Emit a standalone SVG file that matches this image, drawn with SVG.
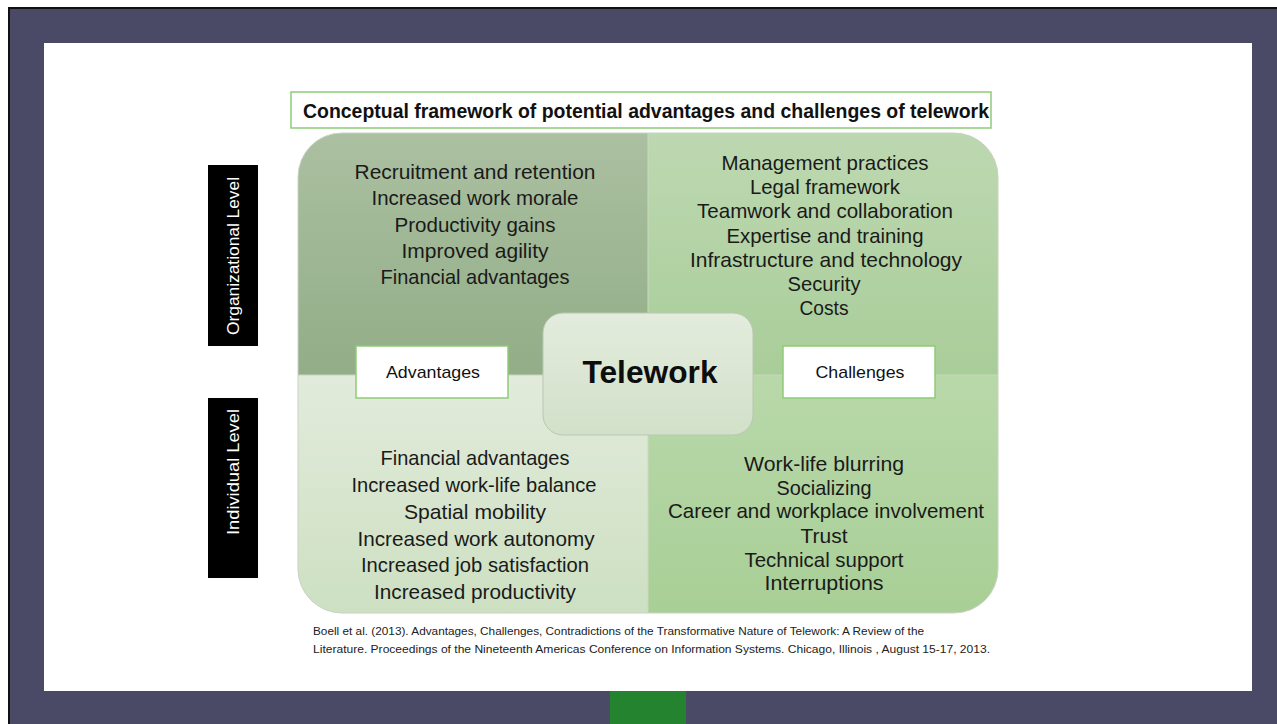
<svg xmlns="http://www.w3.org/2000/svg" width="1277" height="724" viewBox="0 0 1277 724">
  <style>
    .item { font-family: "Liberation Sans", Arial, sans-serif; font-size: 21px; fill: #1a1a1a; text-anchor: middle; }
    .tag { font-family: "Liberation Sans", Arial, sans-serif; font-size: 17px; fill: #111; text-anchor: middle; }
    .level { font-family: "Liberation Sans", Arial, sans-serif; font-size: 17px; fill: #ffffff; text-anchor: middle; }
    .cite { font-family: "Liberation Sans", Arial, sans-serif; font-size: 11.5px; fill: #222; }
    .labelbox { fill: #ffffff; stroke: #8fcb78; stroke-width: 1.5; }
  </style>
  <defs>
    <linearGradient id="gTL" x1="0" y1="0" x2="0" y2="1">
      <stop offset="0" stop-color="#abc0a1"/>
      <stop offset="1" stop-color="#92ad87"/>
    </linearGradient>
    <linearGradient id="gTR" x1="0" y1="0" x2="0" y2="1">
      <stop offset="0" stop-color="#bdd8b1"/>
      <stop offset="1" stop-color="#a9cd99"/>
    </linearGradient>
    <linearGradient id="gBL" x1="0" y1="0" x2="0" y2="1">
      <stop offset="0" stop-color="#e2ebdb"/>
      <stop offset="1" stop-color="#cde0c2"/>
    </linearGradient>
    <linearGradient id="gBR" x1="0" y1="0" x2="0" y2="1">
      <stop offset="0" stop-color="#b9d8aa"/>
      <stop offset="1" stop-color="#a8cf96"/>
    </linearGradient>
    <linearGradient id="gCenter" x1="0" y1="0" x2="0" y2="1">
      <stop offset="0" stop-color="#e3ecdd"/>
      <stop offset="1" stop-color="#d2e0c9"/>
    </linearGradient>
    <clipPath id="quadClip">
      <rect x="298" y="133" width="700" height="480" rx="44" ry="44"/>
    </clipPath>
  </defs>

  <!-- slide frame -->
  <rect x="0" y="0" width="1277" height="724" fill="#ffffff"/>
  <rect x="8" y="7" width="1269" height="717" fill="#111111"/>
  <rect x="10" y="9" width="1267" height="715" fill="#4b4a66"/>
  <rect x="44" y="43" width="1208" height="648" fill="#ffffff"/>
  <rect x="610" y="691" width="76" height="33" fill="#24832f"/>

  <!-- title -->
  <g id="title">
    <rect x="291" y="92" width="700" height="36" fill="#ffffff" stroke="#8fcb78" stroke-width="1.5"/>
    <text x="303" y="118" font-family="Liberation Sans, Arial, sans-serif" font-size="20" font-weight="bold" fill="#111" textLength="686" lengthAdjust="spacingAndGlyphs">Conceptual framework of potential advantages and challenges of telework</text>
  </g>

  <!-- level labels -->
  <g id="organizational-level">
    <rect x="208" y="165" width="50" height="181" fill="#000"/>
    <text class="level" transform="translate(239 256) rotate(-90)" textLength="158" lengthAdjust="spacingAndGlyphs">Organizational Level</text>
  </g>
  <g id="individual-level">
    <rect x="208" y="398" width="50" height="180" fill="#000"/>
    <text class="level" transform="translate(239 472) rotate(-90)" textLength="126" lengthAdjust="spacingAndGlyphs">Individual Level</text>
  </g>

  <!-- quadrant panel -->
  <g id="quadrants" clip-path="url(#quadClip)">
    <rect x="298" y="133" width="350" height="242" fill="url(#gTL)"/>
    <rect x="648" y="133" width="350" height="242" fill="url(#gTR)"/>
    <rect x="298" y="375" width="350" height="238" fill="url(#gBL)"/>
    <rect x="648" y="375" width="350" height="238" fill="url(#gBR)"/>
    <line x1="648" y1="133" x2="648" y2="613" stroke="#c9d9bf" stroke-width="1"/>
    <line x1="298" y1="375" x2="998" y2="375" stroke="#c6d6bc" stroke-width="1"/>
  </g>
  <rect x="298" y="133" width="700" height="480" rx="44" ry="44" fill="none" stroke="#c8d2c2" stroke-width="1"/>

  <g id="org-advantages">
    <text class="item" x="475" y="179" textLength="241" lengthAdjust="spacingAndGlyphs">Recruitment and retention</text>
    <text class="item" x="475" y="205" textLength="207" lengthAdjust="spacingAndGlyphs">Increased work morale</text>
    <text class="item" x="475" y="232" textLength="161" lengthAdjust="spacingAndGlyphs">Productivity gains</text>
    <text class="item" x="475" y="258" textLength="147" lengthAdjust="spacingAndGlyphs">Improved agility</text>
    <text class="item" x="475" y="284" textLength="189" lengthAdjust="spacingAndGlyphs">Financial advantages</text>
  </g>

  <g id="org-challenges">
    <text class="item" x="825" y="170" textLength="207" lengthAdjust="spacingAndGlyphs">Management practices</text>
    <text class="item" x="825" y="194" textLength="150" lengthAdjust="spacingAndGlyphs">Legal framework</text>
    <text class="item" x="825" y="218" textLength="256" lengthAdjust="spacingAndGlyphs">Teamwork and collaboration</text>
    <text class="item" x="825" y="243" textLength="197" lengthAdjust="spacingAndGlyphs">Expertise and training</text>
    <text class="item" x="826" y="267" textLength="272" lengthAdjust="spacingAndGlyphs">Infrastructure and technology</text>
    <text class="item" x="824" y="291" textLength="73" lengthAdjust="spacingAndGlyphs">Security</text>
    <text class="item" x="824" y="315" textLength="49" lengthAdjust="spacingAndGlyphs">Costs</text>
  </g>

  <g id="ind-advantages">
    <text class="item" x="475" y="465" textLength="189" lengthAdjust="spacingAndGlyphs">Financial advantages</text>
    <text class="item" x="474" y="492" textLength="245" lengthAdjust="spacingAndGlyphs">Increased work-life balance</text>
    <text class="item" x="475" y="519" textLength="142" lengthAdjust="spacingAndGlyphs">Spatial mobility</text>
    <text class="item" x="476" y="546" textLength="237" lengthAdjust="spacingAndGlyphs">Increased work autonomy</text>
    <text class="item" x="475" y="572" textLength="228" lengthAdjust="spacingAndGlyphs">Increased job satisfaction</text>
    <text class="item" x="475" y="599" textLength="202" lengthAdjust="spacingAndGlyphs">Increased productivity</text>
  </g>

  <g id="ind-challenges">
    <text class="item" x="824" y="471" textLength="160" lengthAdjust="spacingAndGlyphs">Work-life blurring</text>
    <text class="item" x="824" y="495" textLength="95" lengthAdjust="spacingAndGlyphs">Socializing</text>
    <text class="item" x="826" y="518" textLength="316" lengthAdjust="spacingAndGlyphs">Career and workplace involvement</text>
    <text class="item" x="824" y="543" textLength="47" lengthAdjust="spacingAndGlyphs">Trust</text>
    <text class="item" x="824" y="567" textLength="159" lengthAdjust="spacingAndGlyphs">Technical support</text>
    <text class="item" x="824" y="590" textLength="119" lengthAdjust="spacingAndGlyphs">Interruptions</text>
  </g>

  <!-- centre and side labels -->
  <g id="telework">
    <rect x="543" y="313" width="210" height="122" rx="20" ry="20" fill="url(#gCenter)" stroke="#b9c8b0" stroke-width="1"/>
    <text x="650" y="383" font-family="Liberation Sans, Arial, sans-serif" font-size="32" font-weight="bold" fill="#0d0d0d" text-anchor="middle" textLength="135" lengthAdjust="spacingAndGlyphs">Telework</text>
  </g>
  <g id="advantages">
    <rect class="labelbox" x="356" y="346" width="152" height="52"/>
    <text class="tag" x="433" y="378" textLength="94" lengthAdjust="spacingAndGlyphs">Advantages</text>
  </g>
  <g id="challenges">
    <rect class="labelbox" x="783" y="346" width="152" height="52"/>
    <text class="tag" x="860" y="378" textLength="89" lengthAdjust="spacingAndGlyphs">Challenges</text>
  </g>

  <!-- source -->
  <g id="citation">
    <text class="cite" x="313" y="635" textLength="611" lengthAdjust="spacingAndGlyphs">Boell et al. (2013). Advantages, Challenges, Contradictions of the Transformative Nature of Telework: A Review of the</text>
    <text class="cite" x="313" y="653" textLength="677" lengthAdjust="spacingAndGlyphs">Literature. Proceedings of the Nineteenth Americas Conference on Information Systems. Chicago, Illinois     , August 15-17, 2013.</text>
  </g>
</svg>
